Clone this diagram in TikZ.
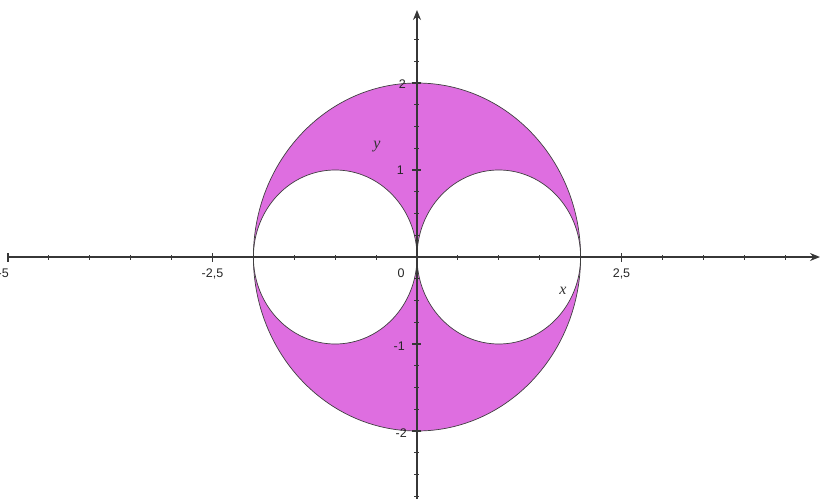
\documentclass[tikz,border=0pt]{standalone}
\usepackage{fontspec}
\setmainfont{Liberation Sans}
\newfontfamily\serifit{Liberation Serif}
\usetikzlibrary{arrows.meta}
\definecolor{fillpink}{RGB}{222,110,224}
\definecolor{axisgray}{RGB}{55,55,55}
\begin{document}
\begin{tikzpicture}[x=81.8pt,y=87pt,
  axisline/.style={draw=axisgray, line width=1.3pt},
  tickmark/.style={draw=axisgray, line width=1.1pt},
  curve/.style={draw=black!75, line width=0.7pt},
  ticklbl/.style={font=\fontsize{12.5}{14}\selectfont, text=black!85, inner sep=0pt},
  varlbl/.style={font=\fontsize{16}{18}\selectfont\serifit\itshape, text=black!80, inner sep=0pt}]
\useasboundingbox (-417pt,-242pt) rectangle (403pt,257pt);
% shaded region
\fill[fillpink, even odd rule] (0,0) ellipse [x radius=2, y radius=2]
  (-1,0) circle [radius=1] (1,0) circle [radius=1];
\draw[curve] (0,0) ellipse [x radius=2, y radius=2];
\draw[curve] (-1,0) circle [radius=1];
\draw[curve] (1,0) circle [radius=1];
% axes
\coordinate (xstart) at (-408pt,0pt);
\coordinate (xend) at (403pt,0pt);
\coordinate (ystart) at (0pt,-242pt);
\coordinate (yend) at (0pt,247pt);
\draw[axisline, -{Stealth[length=10pt,width=8pt]}] (xstart) -- (xend);
\draw[axisline, -{Stealth[length=10pt,width=8pt]}] (ystart) -- (yend);
% x ticks
\foreach \t in {-4.5,-4,-3.5,-3,-2,-1.5,-1,-0.5,0.5,1,1.5,2,3,3.5,4,4.5}
  \draw[tickmark] ([yshift=-2.5pt]\t,0) -- ([yshift=2.5pt]\t,0);
\foreach \t in {-5,-2.5,0,2.5}
  \draw[tickmark] ([yshift=-4.5pt]\t,0) -- ([yshift=4.5pt]\t,0);
% y ticks
\foreach \t in {-2.75,-2.5,-2.25,-1.75,-1.5,-1.25,-0.75,-0.5,-0.25,0.25,0.5,0.75,1.25,1.5,1.75,2.25,2.5}
  \draw[tickmark] ([xshift=-2.5pt]0,\t) -- ([xshift=2.5pt]0,\t);
\foreach \t in {-2,-1,1,2}
  \draw[tickmark] ([xshift=-4.5pt]0,\t) -- ([xshift=4.5pt]0,\t);
% tick labels
\node[ticklbl, anchor=base east] (lxm5) at (-408pt,-20pt) {-5};
\node[ticklbl, anchor=base] (lxm25) at ([yshift=-20pt]-2.5,0) {-2,5};
\node[ticklbl, anchor=base] (lx0) at ([xshift=-16pt,yshift=-20pt]0,0) {0};
\node[ticklbl, anchor=base] (lx25) at ([yshift=-20pt]2.5,0) {2,5};
\node[ticklbl, anchor=east] (ly2) at ([xshift=-11pt,yshift=-1pt]0,2) {2};
\node[ticklbl, anchor=east] (ly1) at ([xshift=-13pt,yshift=0pt]0,1) {1};
\node[ticklbl, anchor=east] (lym1) at ([xshift=-12pt,yshift=-2pt]0,-1) {-1};
\node[ticklbl, anchor=east] (lym2) at ([xshift=-10pt,yshift=-2pt]0,-2) {-2};
% variable labels
\node[varlbl] (ylbl) at (-40pt,110pt) {y};
\node[varlbl] (xlbl) at (146pt,-34pt) {x};
\end{tikzpicture}
\end{document}
